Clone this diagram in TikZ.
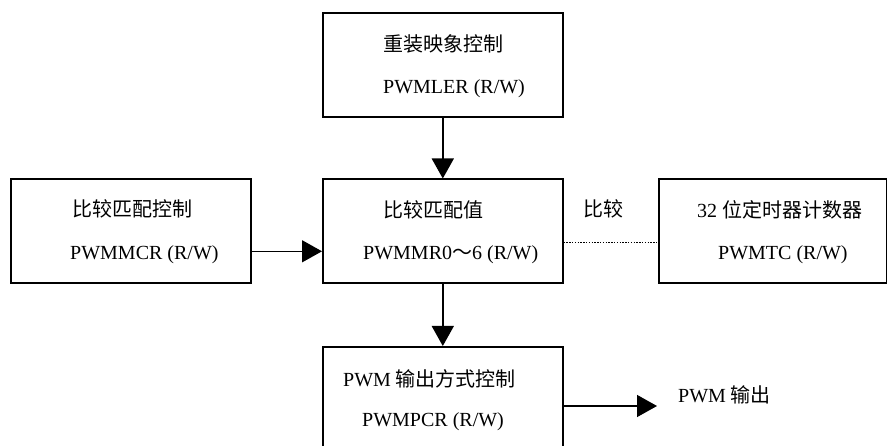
\documentclass[tikz,border=0pt]{standalone}
\usepackage{fontspec}
\setmainfont{Liberation Serif}
\newfontfamily\cjk{Noto Sans CJK SC}
\usetikzlibrary{arrows.meta, positioning}
\newcommand{\cn}[1]{{\cjk #1}}
\definecolor{colBorder}{RGB}{0,0,0}
\definecolor{colArrow}{RGB}{0,0,0}
\tikzset{
  regbox/.style={
    rectangle, draw=colBorder, line width=1.6pt,
    minimum width=240pt, minimum height=104pt,
    inner sep=0pt, anchor=north west
  },
  txt/.style={
    anchor=base west, inner sep=0pt,
    font=\fontsize{20}{24}\selectfont
  },
  arr/.style={
    -{Triangle[length=20pt,width=22pt]}, line width=1.4pt, color=colArrow
  },
  cmpline/.style={
    line width=1.4pt, dash pattern=on 1.4pt off 1.4pt
  }
}

\begin{document}
\begin{tikzpicture}[x=1pt, y=-1pt]
  \useasboundingbox (0,0) rectangle (887,446);

  % register boxes
  \node[regbox] (ler) at (322,12) {};
  \node[regbox] (mr) at (322,178.5) {};
  \node[regbox] (mcr) at (10,178.5) {};
  \node[regbox, minimum width=228pt] (tc) at (658,178.5) {};
  \node[regbox, minimum height=110pt] (pcr) at (322,346) {};

  % box texts
  \node[txt] (lerA) at (383,52) {\cn{重装映象控制}};
  \node[txt] (lerB) at (383,94) {PWMLER (R/W)};
  \node[txt] (mrA) at (383,218) {\cn{比较匹配值}};
  \node[txt] (mrB) at (363,260) {PWMMR0\cn{～}6 (R/W)};
  \node[txt] (mcrA) at (72,217) {\cn{比较匹配控制}};
  \node[txt] (mcrB) at (70,260) {PWMMCR (R/W)};
  \node[txt] (tcA) at (697,218) {32 \cn{位定时器计数器}};
  \node[txt] (tcB) at (718,260) {PWMTC (R/W)};
  \node[txt] (pcrA) at (343,387) {PWM \cn{输出方式控制}};
  \node[txt] (pcrB) at (362,427) {PWMPCR (R/W)};

  % connectors
  \draw[arr] (ler.south) -- (mr.north);
  \draw[arr] (mr.south) -- (pcr.north);
  \draw[arr] ([yshift=-20pt]mcr.east) -- ([yshift=-20pt]mr.west);
  \draw[cmpline] ([yshift=-11pt]mr.east) -- ([yshift=-11pt]tc.west);
  \node[txt] (cmp) at (583,217) {\cn{比较}};

  \coordinate (pwmout) at (657,406);
  \draw[arr] (pcr.east |- pwmout) -- (pwmout);
  \node[txt] (outlbl) at (678,403) {PWM \cn{输出}};

\end{tikzpicture}
\end{document}
